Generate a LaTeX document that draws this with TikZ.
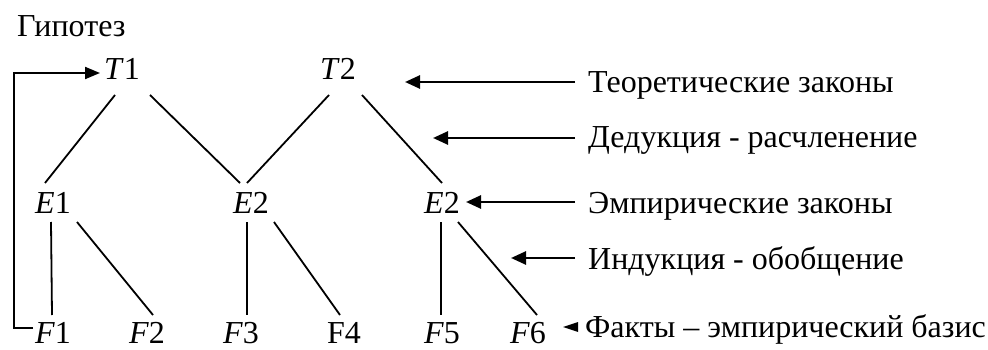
\documentclass[tikz,border=0pt]{standalone}
\usepackage{fontspec}
\setmainfont{Liberation Serif}
\usetikzlibrary{arrows.meta}
\tikzset{
  lbl/.style={anchor=base, inner sep=0pt, font=\fontsize{32}{34}\selectfont},
  side/.style={anchor=base west, inner sep=0pt, font=\fontsize{32}{34}\selectfont},
  tree/.style={line width=1.8pt},
  arr/.style={line width=2.6pt, -{Triangle[length=15pt,width=13pt]}},
  fb/.style={line width=2pt, -{Triangle[length=15pt,width=12pt]}}
}
\begin{document}
\begin{tikzpicture}[x=1pt,y=-1pt]
\useasboundingbox (0,0) rectangle (988,350);
% tree nodes
\node[side] (hyp) at (17,37) {Гипотез};
\node[lbl] (T1) at (122,80) {\textit{T}1};
\node[lbl] (T2) at (338,80) {\textit{T}2};
\node[lbl] (E1) at (53,213) {\textit{E}1};
\node[lbl] (E2a) at (251,213) {\textit{E}2};
\node[lbl] (E2b) at (442,213) {\textit{E}2};
\node[lbl] (F1) at (53,343) {\textit{F}1};
\node[lbl] (F2) at (147,343) {\textit{F}2};
\node[lbl] (F3) at (241,343) {\textit{F}3};
\node[lbl] (F4) at (344,343) {F4};
\node[lbl] (F5) at (442,343) {\textit{F}5};
\node[lbl] (F6) at (528,343) {\textit{F}6};
% side labels
\node[side] (L1) at (588,93) {Теоретические законы};
\node[side] (L2) at (588,148) {Дедукция - расчленение};
\node[side] (L3) at (588,213) {Эмпирические законы};
\node[side] (L4) at (588,269) {Индукция - обобщение};
\node[side] (L5) at (585,337) {Факты – эмпирический базис};
% tree connectors
\draw[tree] ([shift={(-7,15)}]T1.base) -- ([shift={(-8,-30)}]E1.base);
\draw[tree] ([shift={(28,15)}]T1.base) -- ([shift={(-11,-30)}]E2a.base);
\draw[tree] ([shift={(-9,15)}]T2.base) -- ([shift={(-4,-30)}]E2a.base);
\draw[tree] ([shift={(24,15)}]T2.base) -- ([shift={(0,-30)}]E2b.base);
\draw[tree] ([shift={(-2,9)}]E1.base) -- ([shift={(-1,-28)}]F1.base);
\draw[tree] ([shift={(24,9)}]E1.base) -- ([shift={(6,-28)}]F2.base);
\draw[tree] ([shift={(-4,9)}]E2a.base) -- ([shift={(6,-28)}]F3.base);
\draw[tree] ([shift={(23,9)}]E2a.base) -- ([shift={(-4,-28)}]F4.base);
\draw[tree] ([shift={(-1,9)}]E2b.base) -- ([shift={(-1,-28)}]F5.base);
\draw[tree] ([shift={(16,9)}]E2b.base) -- ([shift={(9,-28)}]F6.base);
% feedback arrow F1 -> T1
\draw[fb] ([shift={(-20,-15)}]F1.base) -- ++(-19,0) |- ([shift={(-22,-7)}]T1.base);
% side arrows
\coordinate (a1) at (405,82);
\coordinate (a2) at (433,138);
\coordinate (a3) at (466,202);
\coordinate (a4) at (511,258);
\coordinate (a5) at (563,327);
\draw[arr] ([shift={(-13,-11)}]L1.base west) -- (a1);
\draw[arr] ([shift={(-13,-10)}]L2.base west) -- (a2);
\draw[arr] ([shift={(-13,-11)}]L3.base west) -- (a3);
\draw[arr] ([shift={(-13,-11)}]L4.base west) -- (a4);
\fill ([shift={(-7,-15)}]L5.base west) -- (a5) -- ([shift={(-7,-5)}]L5.base west) -- cycle;
\end{tikzpicture}
\end{document}
